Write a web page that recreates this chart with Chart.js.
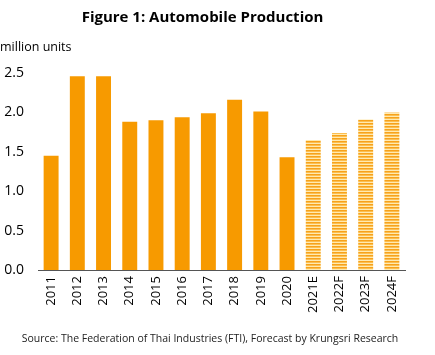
<!DOCTYPE html>
<html><head><meta charset="utf-8">
<script src="https://cdn.jsdelivr.net/npm/chart.js@4"></script>
<style>
html,body{margin:0;padding:0;background:#fff;}
#wrap{position:relative;width:435px;height:355px;}
#unit{position:absolute;left:0;top:38px;font:12.5px "Open Sans",sans-serif;color:#000;}
#src{position:absolute;left:0;width:420px;top:331px;text-align:center;font:10.5px "Open Sans",sans-serif;color:#222;}
</style></head>
<body><div id="wrap"><canvas id="c" width="435" height="355"></canvas><div id="unit">million units</div>
<div id="src">Source: The Federation of Thai Industries (FTI), Forecast by Krungsri Research</div></div>
<script>
const categories = ["2011","2012","2013","2014","2015","2016","2017","2018","2019","2020","2021E","2022F","2023F","2024F"];
const production = [1.45,2.46,2.46,1.88,1.90,1.94,1.99,2.16,2.01,1.43,1.65,1.74,1.91,2.00];
const isForecast = [false,false,false,false,false,false,false,false,false,false,true,true,true,true];
const yTicks = [0,0.5,1.0,1.5,2.0,2.5];

const orange = '#F79A00';
function stripes(){
  const p = document.createElement('canvas');
  p.width = 3; p.height = 3;
  const g = p.getContext('2d');
  g.fillStyle = '#F7A21B'; g.fillRect(0,0,3,1);
  g.fillStyle = '#FBBE50'; g.fillRect(0,1,3,1);
  g.fillStyle = '#FFEAB0'; g.fillRect(0,2,3,1);
  return g.createPattern(p,'repeat');
}
const pat = stripes();

new Chart(document.getElementById('c'), {
  type: 'bar',
  data: {
    labels: categories,
    datasets: [{
      data: production,
      backgroundColor: isForecast.map(f => f ? pat : orange),
      borderWidth: 0,
      barPercentage: 0.57,
      categoryPercentage: 1.0
    }]
  },
  options: {
    responsive: false,
    animation: false,
    layout: {padding: {left: 0, right: 30, top: 0, bottom: 36}},
    plugins: {
      legend: {display: false},
      tooltip: {enabled: false},
      title: {display: true, text: 'Figure 1: Automobile Production', color: '#000',
        font: {family: '"Open Sans", sans-serif', size: 15, weight: 'bold'},
        padding: {top: 9, bottom: 46}}
    },
    scales: {
      x: {
        grid: {display: false, drawTicks: false},
        border: {display: true, color: '#555', width: 1},
        ticks: {color: '#000', maxRotation: 90, minRotation: 90, padding: 6,
          font: {family: '"Open Sans", sans-serif', size: 13}}
      },
      y: {
        min: 0, max: 2.5,
        afterBuildTicks: s => { s.ticks = yTicks.map(v => ({value: v})); },
        afterFit: s => { s.width = 38; },
        grid: {display: false, drawTicks: false},
        border: {display: false},
        ticks: {color: '#000', padding: 14, callback: v => v.toFixed(1),
          font: {family: '"Open Sans", sans-serif', size: 14}}
      }
    }
  }
});
</script></body></html>
